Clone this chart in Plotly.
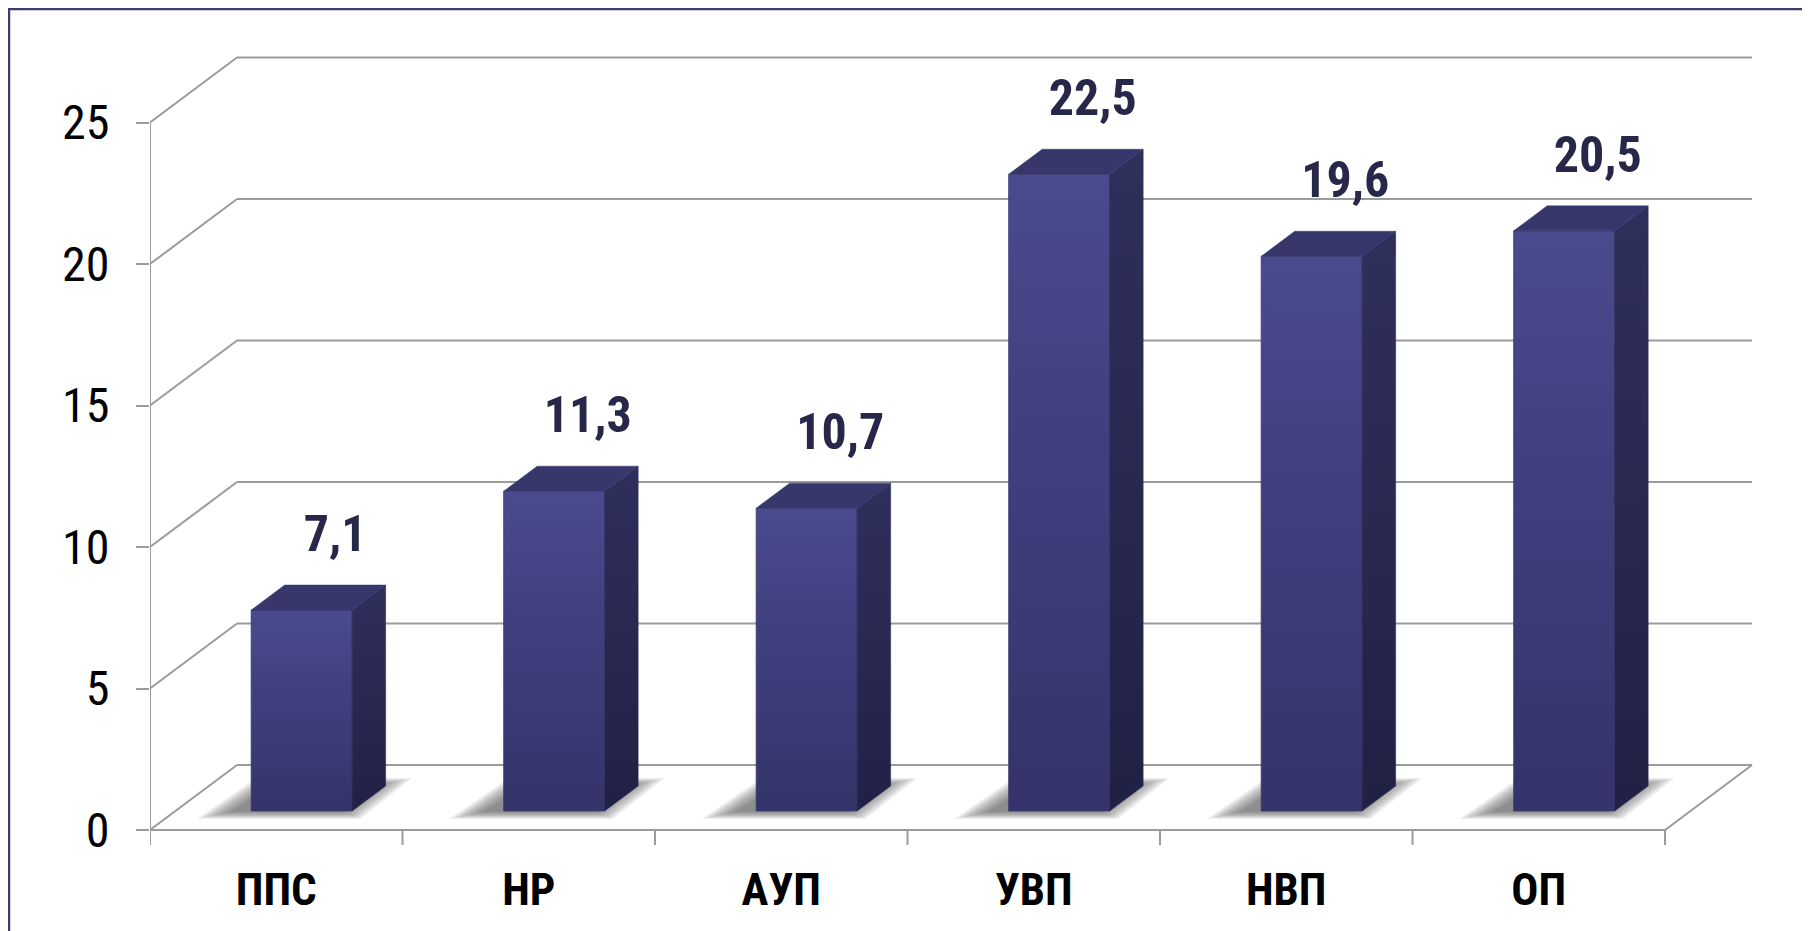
import plotly.graph_objects as go

categories = ["ППС", "НР", "АУП", "УВП", "НВП", "ОП"]
values = [7.1, 11.3, 10.7, 22.5, 19.6, 20.5]
y_ticks = [0, 5, 10, 15, 20, 25]

FONT = "Roboto Condensed, DejaVu Sans Condensed, Liberation Sans, Arial, sans-serif"
GRID = "#9b9b9b"

# 3D projection parameters (data units)
DX = 0.3446      # depth shift along x (category units)
DY = 2.297       # depth shift along y (value units)
F0, F1 = 0.292, 0.677  # bar front/back depth fractions
HALF = 0.2       # half bar width (category units)

n = len(categories)
fig = go.Figure()

def line_trace(xs, ys, color=GRID, width=2):
    return go.Scatter(x=xs, y=ys, mode="lines", line=dict(color=color, width=width),
                      hoverinfo="skip", showlegend=False)

# back wall gridlines + side-wall diagonals
gx, gy, dx_, dy_ = [], [], [], []
for v in y_ticks:
    gx += [DX, n + DX, None]
    gy += [v + DY, v + DY, None]
    dx_ += [0, DX, None]
    dy_ += [v, v + DY, None]
fig.add_trace(line_trace(gx, gy))
fig.add_trace(line_trace(dx_, dy_))
# front vertical axis
fig.add_trace(line_trace([0, 0], [0, y_ticks[-1]]))
# floor front + right edge
fig.add_trace(line_trace([0, n, n + DX], [0, 0, DY]))
# x tick marks at category boundaries
tx, ty = [], []
for i in range(n + 1):
    tx += [i, i, None]
    ty += [0, -0.53, None]
fig.add_trace(line_trace(tx, ty))

# shadows (layered soft polygons)
for i, h in enumerate(values):
    c = i + 0.5 - 0.04
    for k in range(8):
        grow = 0.01 + k * 0.019
        gv = 0.03 + k * 0.035
        x0 = c - HALF + F0 * DX - grow - 0.03
        x1 = c + HALF + F0 * DX + grow * 0.5
        x2 = c + HALF + F1 * DX + grow
        x3 = c - HALF + F1 * DX - grow * 0.5
        yb = F0 * DY - gv
        yt = F1 * DY + gv
        fig.add_trace(go.Scatter(
            x=[x0, x1, x2, x3, x0], y=[yb, yb, yt, yt, yb], mode="lines",
            fill="toself", fillcolor="rgba(80,80,80,0.12)", line=dict(width=0),
            hoverinfo="skip", showlegend=False))

# bars
for i, h in enumerate(values):
    c = i + 0.5
    fl, fr = c - HALF + F0 * DX, c + HALF + F0 * DX
    bl, br = c - HALF + F1 * DX, c + HALF + F1 * DX
    y0f, y0b = F0 * DY, F1 * DY
    # front face
    fig.add_trace(go.Scatter(
        x=[fl, fr, fr, fl, fl], y=[y0f, y0f, h + y0f, h + y0f, y0f], mode="lines",
        fill="toself", line=dict(width=0.8, color="#3a3a70"),
        fillgradient=dict(type="vertical",
                          colorscale=[[0, "#34346a"], [0.6, "#404080"], [1, "#4a4a8f"]]),
        hoverinfo="skip", showlegend=False))
    # side face
    fig.add_trace(go.Scatter(
        x=[fr, br, br, fr, fr], y=[y0f, y0b, h + y0b, h + y0f, y0f], mode="lines",
        fill="toself", line=dict(width=0.5, color="#272750"),
        fillgradient=dict(type="vertical",
                          colorscale=[[0, "#212146"], [1, "#2f2f5c"]]),
        hoverinfo="skip", showlegend=False))
    # top face
    fig.add_trace(go.Scatter(
        x=[fl, fr, br, bl, fl], y=[h + y0f, h + y0f, h + y0b, h + y0b, h + y0f], mode="lines",
        fill="toself", fillcolor="#37376c", line=dict(width=0.5, color="#37376c"),
        hoverinfo="skip", showlegend=False))

# value labels
fig.add_trace(go.Scatter(
    x=[i + 0.5 + F1 * DX for i in range(n)],
    y=[h + F1 * DY + 1.65 for h in values],
    mode="text", text=[f"{v:.1f}".replace(".", ",") for v in values],
    textposition="middle center",
    textfont=dict(family=FONT, size=50, color="#27274a", weight="bold"),
    hoverinfo="skip", showlegend=False, cliponaxis=False))

fig.update_layout(
    width=1810, height=931,
    margin=dict(l=142, r=28, t=32, b=89),
    paper_bgcolor="white", plot_bgcolor="white",
    showlegend=False,
    xaxis=dict(range=[0, 6.495], showgrid=False, zeroline=False, showline=False,
               tickvals=[i + 0.5 for i in range(n)], ticktext=categories,
               ticks="", ticklabelstandoff=9,
               tickfont=dict(family=FONT, size=45, color="black", weight="bold")),
    yaxis=dict(range=[-0.7067, 27.915], showgrid=False, zeroline=False, showline=False,
               tickvals=y_ticks, ticktext=[str(t) for t in y_ticks],
               ticks="outside", ticklen=13, tickwidth=2, tickcolor=GRID,
               ticklabelstandoff=17,
               tickfont=dict(family=FONT, size=48, color="black")),
    shapes=[dict(type="rect", xref="paper", yref="paper",
                 x0=-0.0860, x1=1.2, y0=-0.3, y1=1.0383,
                 line=dict(color="#3c3c6e", width=2.5), layer="above")],
)

fig.write_html("out.html")
